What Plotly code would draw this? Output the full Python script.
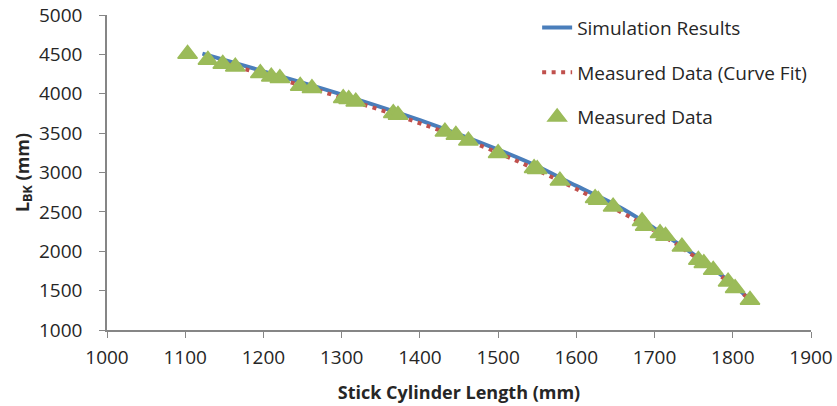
import plotly.graph_objects as go

# Measured data (triangles)
meas_x = [1103, 1129, 1148, 1164, 1196, 1210, 1221, 1247, 1262, 1302, 1309, 1318,
          1366, 1372, 1432, 1446, 1462, 1500, 1546, 1550, 1579, 1624, 1628, 1647,
          1684, 1688, 1707, 1714, 1735, 1756, 1763, 1775, 1794, 1803, 1822]
meas_y = [4505, 4429, 4378, 4344, 4260, 4217, 4196, 4098, 4069, 3942, 3929, 3899,
          3752, 3730, 3518, 3476, 3404, 3244, 3053, 3041, 2896, 2672, 2651, 2566,
          2380, 2321, 2228, 2194, 2058, 1889, 1847, 1762, 1613, 1530, 1381]

# Simulation results (solid line)
sim_x = [1122, 1200, 1300, 1400, 1500, 1550, 1600, 1650, 1700, 1750, 1800, 1820]
sim_y = [4510, 4285, 3990, 3665, 3290, 3080, 2830, 2590, 2290, 1960, 1580, 1400]

# Measured data curve fit (dotted line)
fit_x = [1130, 1200, 1300, 1400, 1500, 1600, 1700, 1750, 1800, 1820]
fit_y = [4445, 4245, 3950, 3625, 3250, 2790, 2260, 1940, 1565, 1400]

x_ticks = [1000, 1100, 1200, 1300, 1400, 1500, 1600, 1700, 1800, 1900]
y_ticks = [1000, 1500, 2000, 2500, 3000, 3500, 4000, 4500, 5000]

FONT = "Open Sans"
TXT = "#262626"
AX = "#868686"

fig = go.Figure()
fig.add_trace(go.Scatter(
    x=sim_x, y=sim_y, mode="lines", name="Simulation Results",
    line=dict(color="#4A7EBB", width=4, shape="spline"), legendgroup="a"))
fig.add_trace(go.Scatter(
    x=fit_x, y=fit_y, mode="lines", name="Measured Data (Curve Fit)",
    line=dict(color="#C0504D", width=4, dash="4px,5.5px", shape="spline"), legendgroup="b"))
fig.add_trace(go.Scatter(
    x=meas_x, y=meas_y, mode="markers", name="Measured Data",
    marker=dict(symbol="triangle-up", size=17, color="#9BBB59",
                line=dict(color="#9BBB59", width=1.5)), legendgroup="c"))

fig.update_layout(
    width=837, height=406,
    margin=dict(l=107, r=26, t=15, b=76, autoexpand=False),
    paper_bgcolor="white", plot_bgcolor="white",
    font=dict(family=FONT, size=19, color=TXT),
    showlegend=True,
    legend=dict(x=0.611, y=1.02, xanchor="left", yanchor="top",
                bgcolor="rgba(0,0,0,0)", traceorder="grouped",
                tracegroupgap=17, font=dict(size=19, color=TXT)),
    xaxis=dict(range=[1000, 1900], tickvals=x_ticks, ticktext=[str(v) for v in x_ticks],
               showline=True, linecolor=AX, linewidth=1.5, ticks="outside", ticklen=6,
               tickcolor=AX, showgrid=False, zeroline=False, ticklabelstandoff=3,
               ticklabeloverflow="allow",
               tickfont=dict(size=19, color=TXT),
               title=dict(text="<b>Stick Cylinder Length (mm)</b>", standoff=18,
                          font=dict(size=18, color=TXT))),
    yaxis=dict(range=[1000, 5000], tickvals=y_ticks, ticktext=[str(v) for v in y_ticks],
               showline=True, linecolor=AX, linewidth=1.5, ticks="outside", ticklen=6,
               tickcolor=AX, showgrid=False, zeroline=False, ticklabelstandoff=13,
               ticklabeloverflow="allow",
               tickfont=dict(size=19, color=TXT),
               title=dict(text="<b>L<sub>BK</sub> (mm)</b>", standoff=5,
                          font=dict(size=18, color=TXT))),
)

fig.write_html("out.html", config={"displayModeBar": False},
               post_script="document.body.style.margin='0';")
